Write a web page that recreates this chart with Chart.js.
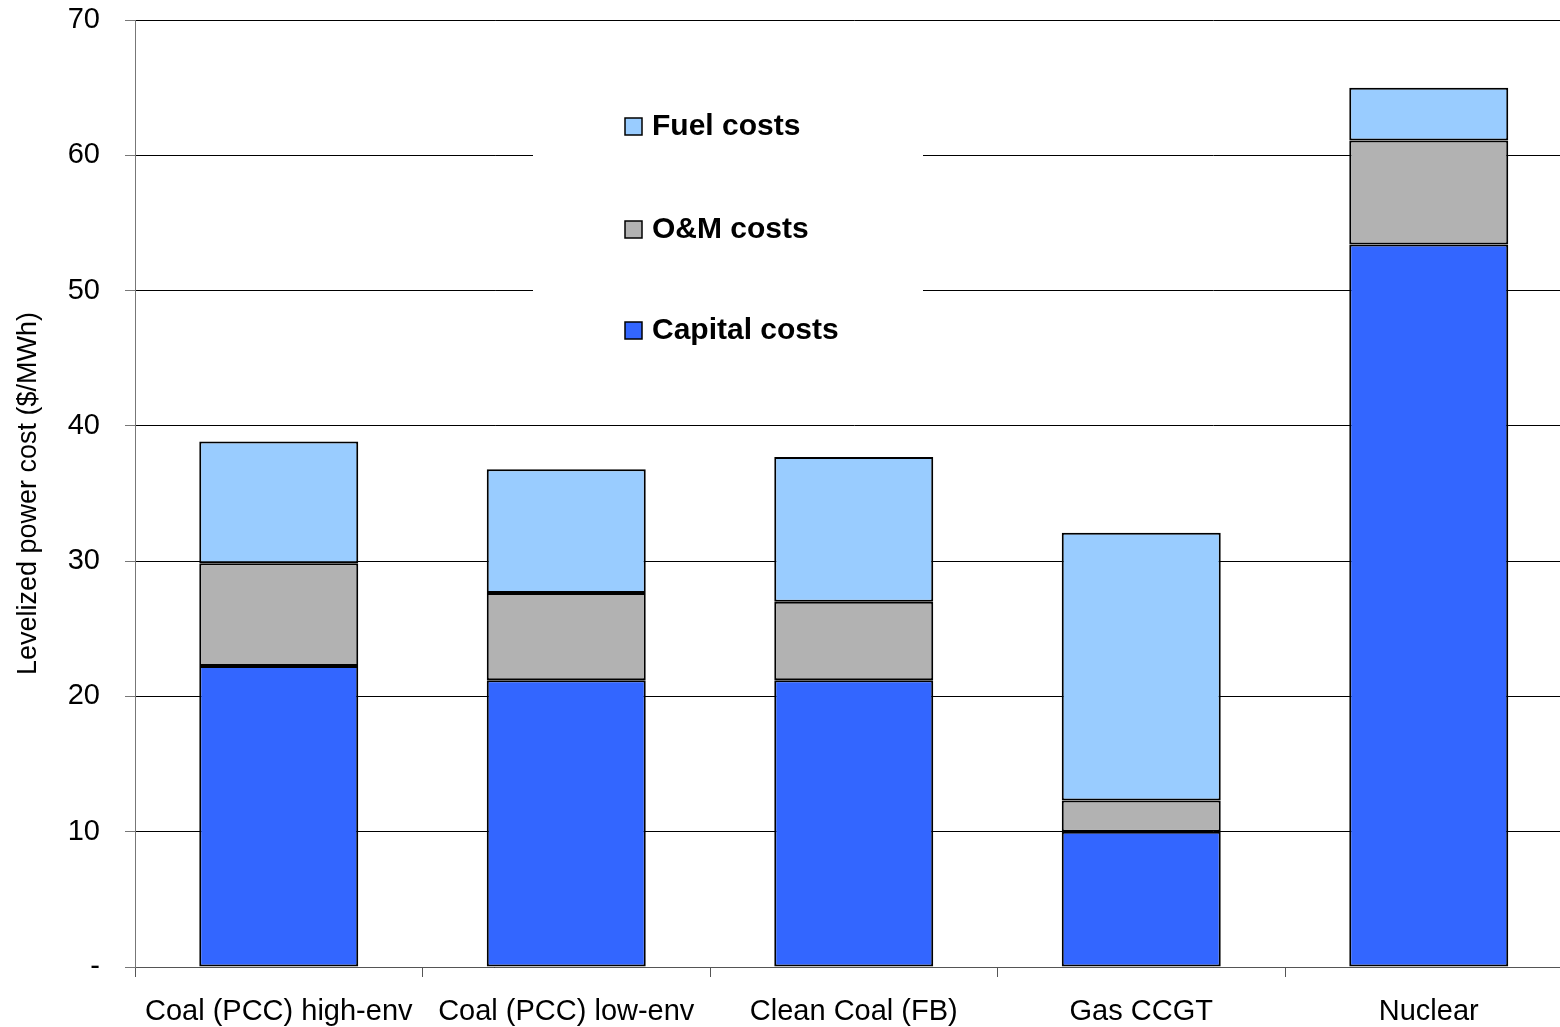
<!DOCTYPE html>
<html>
<head>
<meta charset="utf-8">
<script src="https://cdn.jsdelivr.net/npm/chart.js@4.4.1/dist/chart.umd.min.js"></script>
<style>
  html, body { margin: 0; padding: 0; background: #fff; overflow: hidden; }
  #chart { display: block; }
</style>
</head>
<body>
<canvas id="chart" width="1580" height="1027"></canvas>
<script>
// levelized cost breakdown per technology, $/MWh
const categories = ['Coal (PCC) high-env', 'Coal (PCC) low-env', 'Clean Coal (FB)', 'Gas CCGT', 'Nuclear'];
const capitalCosts = [22.25, 21.2, 21.2, 10.0, 53.4];
const omCosts = [7.6, 6.45, 5.8, 2.3, 7.7];
const fuelCosts = [9.0, 9.15, 10.7, 19.8, 3.9];
const yTicks = [0, 10, 20, 30, 40, 50, 60, 70];

const FONT = '"Liberation Sans", Arial, sans-serif';

// white panel behind the legend, then the legend entries (top-down: fuel, O&M, capital)
const legendPanel = {
  id: 'legendPanel',
  beforeDatasetsDraw(chart) {
    const ctx = chart.ctx;
    ctx.save();
    ctx.fillStyle = '#fff';
    ctx.fillRect(533, 95, 390, 260);
    ctx.restore();
  },
  afterDraw(chart) {
    const ctx = chart.ctx;
    const items = [...chart.data.datasets].reverse();
    const rows = [126, 229, 330];
    ctx.save();
    ctx.font = 'bold 30px ' + FONT;
    ctx.textBaseline = 'middle';
    items.forEach((ds, i) => {
      const y = rows[i];
      ctx.fillStyle = ds.backgroundColor;
      ctx.fillRect(625, y - 8, 17, 17);
      ctx.lineWidth = 1.5;
      ctx.strokeStyle = '#000';
      ctx.strokeRect(625, y - 8, 17, 17);
      ctx.fillStyle = '#000';
      ctx.fillText(ds.label, 652, y + 1);
    });
    ctx.restore();
  }
};

const mkSet = (label, data, color) => ({
  label,
  data,
  backgroundColor: color,
  borderColor: '#000',
  borderWidth: 2,
  borderSkipped: false,
  categoryPercentage: 1,
  barPercentage: 0.553
});

new Chart(document.getElementById('chart'), {
  type: 'bar',
  data: {
    labels: categories,
    datasets: [
      mkSet('Capital costs', capitalCosts, '#3366FF'),
      mkSet('O&M costs', omCosts, '#B2B2B2'),
      mkSet('Fuel costs', fuelCosts, '#99CCFF')
    ]
  },
  options: {
    responsive: false,
    animation: false,
    layout: { padding: { top: 0, right: 7.5, left: 0, bottom: 0 } },
    plugins: {
      legend: { display: false },
      tooltip: { enabled: false }
    },
    scales: {
      x: {
        stacked: true,
        offset: true,
        afterFit(scale) { scale.height = 60; },
        grid: {
          offset: true,
          drawOnChartArea: false,
          drawTicks: true,
          tickLength: 10,
          color: '#555'
        },
        border: { color: '#555', width: 1 },
        ticks: {
          color: '#000',
          font: { family: FONT, size: 29 },
          padding: 18,
          maxRotation: 0,
          autoSkip: false
        }
      },
      y: {
        stacked: true,
        min: 0,
        max: 70,
        afterBuildTicks(scale) {
          scale.ticks = yTicks.map(v => ({ value: v }));
        },
        afterFit(scale) {
          scale.width = 135;
          scale.paddingTop = 20;
          scale.paddingBottom = 20;
        },
        grid: {
          color: '#000',
          lineWidth: 1,
          tickLength: 10,
          tickColor: '#777'
        },
        border: { color: '#777', width: 1 },
        ticks: {
          color: '#000',
          font: { family: FONT, size: 29 },
          padding: 25,
          callback: v => v === 0 ? '-' : v
        },
        title: {
          display: true,
          text: 'Levelized power cost ($/MWh)',
          color: '#000',
          font: { family: FONT, size: 27 },
          padding: { top: 12, bottom: 10 }
        }
      }
    }
  },
  plugins: [legendPanel]
});
</script>
</body>
</html>
